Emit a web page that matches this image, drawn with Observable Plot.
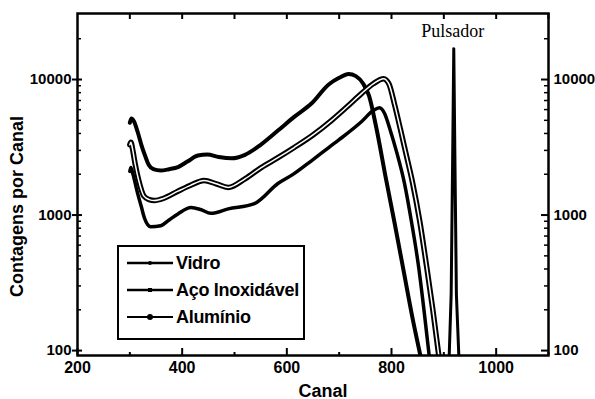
<!DOCTYPE html>
<html><head><meta charset="utf-8">
<script src="https://cdn.jsdelivr.net/npm/d3@7"></script>
<script src="https://cdn.jsdelivr.net/npm/@observablehq/plot@0.6"></script>
<style>
body{margin:0;background:#fff;}
#wrap{position:relative;width:595px;height:399px;overflow:hidden;background:#fff;}
#legend{position:absolute;left:117px;top:245px;width:184px;height:91px;border:2px solid #000;background:#fff;font-family:"Liberation Sans",Arial,sans-serif;font-weight:bold;font-size:18px;color:#000;}
.item{position:absolute;left:8px;height:24px;display:flex;align-items:center;white-space:nowrap;letter-spacing:-0.3px;}
.item svg{margin-right:2px;}
</style></head><body><div id="wrap"><div id="legend"></div></div>
<script>
// ---- data ----
const vidroCanal = [300, 303, 308, 315, 322, 329, 336, 345, 359, 375, 392, 410, 430, 448, 470, 495, 520, 550, 583, 614, 647, 680, 700, 718, 732, 746, 757, 770, 790, 806, 823, 840, 858];
const vidroContagens = [4800, 5150, 4900, 4100, 3300, 2750, 2350, 2180, 2130, 2180, 2260, 2480, 2750, 2800, 2680, 2620, 2780, 3300, 4200, 5300, 6650, 9200, 10300, 11000, 10600, 9300, 7600, 4600, 1800, 870, 390, 175, 82];

const acoCanal = [300, 302, 305, 310, 317, 327, 337, 347, 365, 392, 415, 442, 465, 488, 520, 551, 583, 614, 650, 685, 715, 743, 765, 785, 795, 806, 817, 828, 840, 854, 867, 879, 891];
const acoContagens = [3300, 3450, 3100, 2400, 1800, 1380, 1300, 1280, 1330, 1500, 1650, 1800, 1700, 1600, 1850, 2240, 2650, 3150, 3900, 4980, 6300, 7900, 9300, 10150, 9300, 6500, 4300, 2800, 1750, 900, 420, 200, 88];

const aluminioCanal = [300, 302, 306, 315, 322, 328, 340, 359, 375, 392, 417, 435, 455, 488, 538, 583, 614, 647, 680, 700, 743, 765, 777, 787, 797, 810, 825, 838, 852, 862, 873];
const aluminioContagens = [2100, 2240, 2000, 1440, 1150, 950, 820, 835, 920, 1020, 1135, 1100, 1030, 1110, 1215, 1710, 2020, 2515, 3150, 3600, 4900, 5900, 6200, 5600, 4300, 2900, 1700, 900, 410, 200, 85];

const pulsadorCanal = [910, 914, 917, 919, 921, 924, 929];
const pulsadorContagens = [85, 260, 3000, 16900, 3000, 260, 85];

const pulsadorLabel = [{canal: 917, contagens: 22600, texto: "Pulsador"}];

const legendLabels = ["Vidro", "Aço Inoxidável", "Alumínio"];
const xTicks = [200, 400, 600, 800, 1000];
const xMinorTicks = [300, 500, 700, 900, 1100];
const xTopTicks = [300, 400, 500, 600, 700, 800, 900, 1000, 1100];
const yTicks = [100, 1000, 10000];
const yMinorTicks = [200, 300, 400, 500, 600, 700, 800, 900, 2000, 3000, 4000, 5000, 6000, 7000, 8000, 9000, 20000];

const xDomain = [200, 1100];
const yDomain = [92, 30700];

const toRows = (xs, ys) => xs.map((x, i) => ({canal: x, contagens: ys[i]}));
const vidro = toRows(vidroCanal, vidroContagens);
const aco = toRows(acoCanal, acoContagens);
const aluminio = toRows(aluminioCanal, aluminioContagens);
const pulsador = toRows(pulsadorCanal, pulsadorContagens);

// tick lengths expressed through the scales
const logStep = (px) => Math.pow(10, px * Math.log10(yDomain[1] / yDomain[0]) / 342);
const xStep = (px) => px * (xDomain[1] - xDomain[0]) / 471;

const chart = Plot.plot({
  width: 595,
  height: 399,
  marginLeft: 77,
  marginRight: 47,
  marginTop: 13,
  marginBottom: 44,
  style: {fontFamily: "'Liberation Sans', Arial, sans-serif", color: "black", background: "white"},
  x: {domain: xDomain},
  y: {type: "log", domain: yDomain},
  marks: [
    // curves
    Plot.line(vidro, {x: "canal", y: "contagens", stroke: "black", strokeWidth: 4, curve: "monotone-x", clip: true}),
    Plot.line(aluminio, {x: "canal", y: "contagens", stroke: "black", strokeWidth: 3.5, curve: "monotone-x", clip: true}),
    Plot.line(aco, {x: "canal", y: "contagens", stroke: "black", strokeWidth: 5.5, curve: "monotone-x", clip: true}),
    Plot.line(aco, {x: "canal", y: "contagens", stroke: "white", strokeWidth: 1.5, curve: "monotone-x", clip: true}),
    Plot.line(pulsador, {x: "canal", y: "contagens", stroke: "black", strokeWidth: 3, clip: true}),
    Plot.text(pulsadorLabel, {x: "canal", y: "contagens", text: "texto", fontFamily: "'Liberation Serif', 'Times New Roman', serif", fontWeight: "normal", fontSize: 18}),
    // inward ticks
    Plot.ruleY(yMinorTicks, {y: d => d, x1: xDomain[0], x2: xDomain[0] + xStep(4), stroke: "black", strokeWidth: 1.5}),
    Plot.ruleY(yMinorTicks, {y: d => d, x1: xDomain[1] - xStep(4), x2: xDomain[1], stroke: "black", strokeWidth: 1.5}),
    Plot.ruleY(yTicks, {y: d => d, x1: xDomain[0], x2: xDomain[0] + xStep(5), stroke: "black", strokeWidth: 2}),
    Plot.ruleY(yTicks, {y: d => d, x1: xDomain[1] - xStep(7), x2: xDomain[1], stroke: "black", strokeWidth: 2}),
    Plot.ruleX(xTicks, {x: d => d, y1: yDomain[0], y2: yDomain[0] * logStep(7), stroke: "black", strokeWidth: 2}),
    Plot.ruleX(xMinorTicks, {x: d => d, y1: yDomain[0], y2: yDomain[0] * logStep(3), stroke: "black", strokeWidth: 2}),
    Plot.ruleX(xTopTicks, {x: d => d, y1: yDomain[1] / logStep(6), y2: yDomain[1], stroke: "black", strokeWidth: 2}),
    Plot.frame({stroke: "black", strokeWidth: 2.5}),
    // axes
    Plot.axisY({anchor: "left", ticks: yTicks, tickFormat: d => String(d), tickSize: 5, tickPadding: 1, strokeWidth: 2, fontSize: 15, fontWeight: "bold", label: null}),
    Plot.axisY({anchor: "right", ticks: yTicks, tickFormat: d => String(d), tickSize: 0, tickPadding: 5, fontSize: 15, fontWeight: "bold", label: null}),
    Plot.axisX({anchor: "bottom", ticks: xTicks, tickFormat: d => String(d), tickSize: 0, tickPadding: 6, fontSize: 16, fontWeight: "bold", label: null}),
    // axis titles
    Plot.text(["Canal"], {text: d => d, frameAnchor: "bottom", dx: 10, dy: 41, fontSize: 18, fontWeight: "bold"}),
    Plot.text(["Contagens por Canal"], {text: d => d, frameAnchor: "left", textAnchor: "middle", rotate: -90, dx: -60, dy: 22, fontSize: 18, fontWeight: "bold"})
  ]
});
document.getElementById("wrap").prepend(chart);

// legend
const legend = document.getElementById("legend");
const markers = [
  `<line x1="0" y1="6" x2="46" y2="6" stroke="black" stroke-width="2.5"/><circle cx="23" cy="6" r="2" fill="black"/>`,
  `<line x1="0" y1="6" x2="46" y2="6" stroke="black" stroke-width="2.5"/><rect x="21" y="4" width="4" height="4" fill="black"/>`,
  `<line x1="0" y1="6" x2="46" y2="6" stroke="black" stroke-width="2"/><circle cx="23" cy="6" r="3" fill="black"/>`
];
const centers = [16, 43, 70];
legendLabels.forEach((lab, i) => {
  const div = document.createElement("div");
  div.className = "item";
  div.style.top = (centers[i] - 12) + "px";
  div.innerHTML = `<svg width="47" height="12">${markers[i]}</svg><span>${lab}</span>`;
  legend.appendChild(div);
});
</script>
</body></html>
